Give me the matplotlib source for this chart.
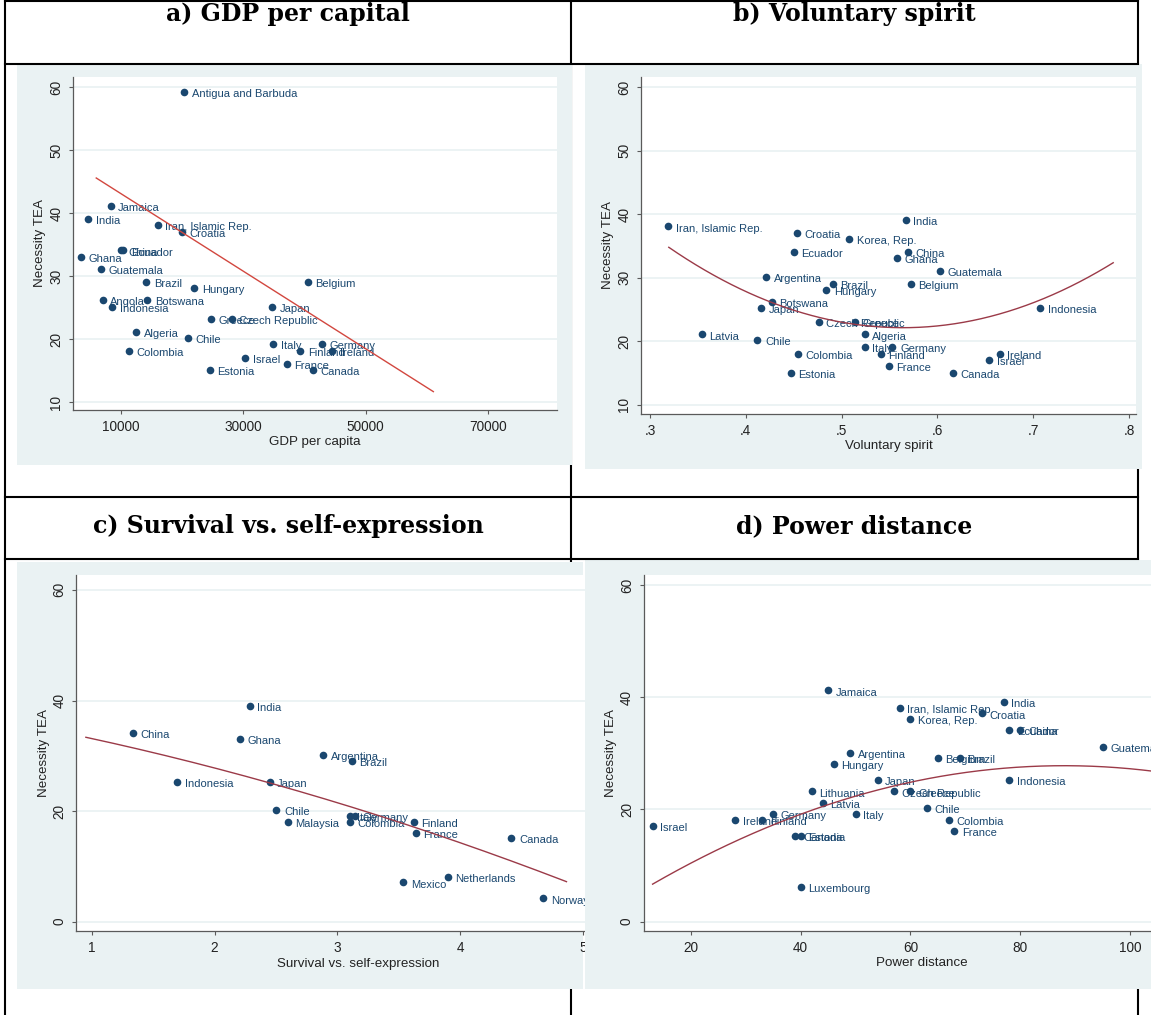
import matplotlib
matplotlib.use("Agg")
import matplotlib.pyplot as plt
from matplotlib.lines import Line2D
from matplotlib.patches import Rectangle
import numpy as np

W, H = 1151, 1015
BG = "#eaf2f3"
NAVY = "#1a476f"

# a) GDP per capita
gdp_names = ["Antigua and Barbuda", "Jamaica", "India", "Iran, Islamic Rep.", "Croatia",
             "China", "Ecuador", "Ghana", "Guatemala", "Brazil", "Hungary", "Belgium",
             "Angola", "Botswana", "Indonesia", "Japan", "Greece", "Czech Republic",
             "Algeria", "Chile", "Italy", "Germany", "Finland", "Ireland", "Colombia",
             "Israel", "France", "Canada", "Estonia"]
gdp_x = [20300, 8300, 4600, 16000, 19900, 10000, 10400, 3400, 6700, 14100, 22000, 40500,
         7000, 14300, 8600, 34700, 24700, 28100, 12500, 20900, 34900, 42800, 39300, 44500,
         11300, 30300, 37100, 41400, 24500]
gdp_tea = [59.2, 41.2, 39.1, 38.1, 37.1, 34.1, 34.1, 33.1, 31.1, 29.1, 28.1, 29.1,
           26.2, 26.2, 25.2, 25.2, 23.2, 23.2, 21.2, 20.2, 19.2, 19.2, 18.1, 18.1,
           18.1, 17.1, 16.1, 15.2, 15.2]
gdp_fit = [-6.15e-4, 49.26]
gdp_fit_range = [5950, 61080]

# b) Voluntary spirit
vol_names = ["Iran, Islamic Rep.", "India", "Croatia", "Korea, Rep.", "Ecuador", "China",
             "Ghana", "Guatemala", "Argentina", "Brazil", "Belgium", "Hungary", "Botswana",
             "Japan", "Indonesia", "Czech Republic", "Greece", "Algeria", "Latvia", "Chile",
             "Italy", "Germany", "Finland", "Colombia", "Ireland", "Israel", "France",
             "Estonia", "Canada"]
vol_x = [0.319, 0.567, 0.4535, 0.508, 0.450, 0.569, 0.558, 0.603, 0.421, 0.491, 0.572,
         0.484, 0.427, 0.416, 0.707, 0.476, 0.514, 0.524, 0.354, 0.412, 0.524, 0.553,
         0.541, 0.454, 0.665, 0.654, 0.549, 0.447, 0.616]
vol_tea = [38.1, 39.1, 37.1, 36.1, 34.1, 34.1, 33.1, 31.1, 30.1, 29.1, 29.1, 28.1, 26.2,
           25.2, 25.2, 23.1, 23.1, 21.1, 21.1, 20.2, 19.2, 19.2, 18.1, 18.1, 18.1, 17.1,
           16.1, 15.1, 15.1]
vol_fit = [212.0, -239.1, 89.58]
vol_fit_range = [0.3196, 0.7835]

# c) Survival vs. self-expression
surv_names = ["India", "China", "Ghana", "Argentina", "Brazil", "Indonesia", "Japan",
              "Chile", "Malaysia", "Italy", "Germany", "Colombia", "Finland", "France",
              "Canada", "Mexico", "Netherlands", "Norway"]
surv_x = [2.285, 1.337, 2.209, 2.882, 3.115, 1.698, 2.448, 2.503, 2.595, 3.099, 3.139,
          3.099, 3.620, 3.635, 4.415, 3.534, 3.895, 4.673]
surv_tea = [39.1, 34.1, 33.1, 30.1, 29.1, 25.2, 25.2, 20.2, 18.1, 19.2, 19.2, 18.1, 18.1,
            16.1, 15.2, 7.1, 8.1, 4.2]
surv_fit = [-0.4803, -3.888, 37.50]
surv_fit_range = [0.954, 4.862]

# d) Power distance
pd_names = ["Jamaica", "India", "Iran, Islamic Rep.", "Croatia", "Korea, Rep.", "Ecuador",
            "China", "Guatemala", "Argentina", "Belgium", "Brazil", "Hungary", "Japan",
            "Indonesia", "Lithuania", "Czech Republic", "Greece", "Latvia", "Chile",
            "Germany", "Italy", "Ireland", "Finland", "Colombia", "Israel", "France",
            "Canada", "Estonia", "Luxembourg"]
pd_x = [45, 77, 58, 73, 60, 78, 80, 95, 49, 65, 69, 46, 54, 78, 42, 57, 60, 44, 63, 35, 50,
        28, 33, 67, 13, 68, 39, 40, 40]
pd_tea = [41.2, 39.1, 38.1, 37.1, 36.1, 34.1, 34.1, 31.1, 30.1, 29.1, 29.1, 28.1, 25.2,
          25.2, 23.2, 23.2, 23.2, 21.2, 20.2, 19.2, 19.2, 18.1, 18.1, 18.1, 17.1, 16.1,
          15.2, 15.2, 6.2]
pd_fit = [-0.003753, 0.6605, -1.264]
pd_fit_range = [13, 104]

plt.rcParams["font.family"] = ["Liberation Sans", "DejaVu Sans"]

fig = plt.figure(figsize=(W / 100, H / 100), dpi=100)


def px_box(x0, x1, y0, y1):
    return [x0 / W, 1 - y1 / H, (x1 - x0) / W, (y1 - y0) / H]


def fig_line(x0, y0, x1, y1, z):
    fig.add_artist(Line2D([x0 / W, x1 / W], [1 - y0 / H, 1 - y1 / H],
                          transform=fig.transFigure, color="black", lw=1.5, zorder=z))


def fig_rect(x0, x1, y0, y1, z):
    fig.add_artist(Rectangle((x0 / W, 1 - y1 / H), (x1 - x0) / W, (y1 - y0) / H,
                             transform=fig.transFigure, facecolor=BG, edgecolor="none",
                             zorder=z))


def panel(box, names, xs, ys, fit, fit_range, xlim, ylim, xticks, xticklabels, yticks,
          xlabel, line_color, z):
    ax = fig.add_axes(px_box(*box), zorder=z)
    ax.set_facecolor("white")
    for s in ["top", "right"]:
        ax.spines[s].set_visible(False)
    for s in ["left", "bottom"]:
        ax.spines[s].set_color("#5a5a5a")
        ax.spines[s].set_linewidth(0.9)
    ax.set_xlim(xlim)
    ax.set_ylim(ylim)
    ax.set_xticks(xticks, xticklabels)
    ax.set_yticks(yticks, [str(t) for t in yticks], rotation=90, va="center")
    ax.tick_params(direction="out", length=3, width=0.8, color="#5a5a5a",
                   labelsize=9.8, labelcolor="#222222", pad=4)
    ax.yaxis.grid(True, color=BG, lw=1.3)
    ax.set_axisbelow(True)
    ax.set_xlabel(xlabel, fontsize=9.6, color="#222222", labelpad=2)
    ax.set_ylabel("Necessity TEA", fontsize=9.6, color="#222222", labelpad=2)

    for n, x, y in zip(names, xs, ys):
        ax.annotate(n, (x, y), xytext=(5.5, -1.5), textcoords="offset points",
                    ha="left", va="center", fontsize=8.0, color=NAVY, zorder=2)
    ax.plot(xs, ys, "o", color=NAVY, ms=5.5, mew=0, zorder=3)
    fx = np.linspace(fit_range[0], fit_range[1], 200)
    ax.plot(fx, np.polyval(fit, fx), color=line_color, lw=1.0, zorder=4)
    return ax


# table lines that sit behind the pictures
fig_line(5, 0, 5, H, 0.5)
fig_line(571, 0, 571, H, 0.5)
fig_line(1138, 0, 1138, H, 0.5)

# picture backgrounds
fig_rect(17, 572, 64, 465, 1)
fig_rect(585, 1142, 64, 469, 1)
fig_rect(17, 583, 562, 989, 1)

panel((73, 557, 77, 410), gdp_names, gdp_x, gdp_tea, gdp_fit, gdp_fit_range,
      (2150, 81300), (8.78, 61.63), [10000, 30000, 50000, 70000],
      ["10000", "30000", "50000", "70000"], [10, 20, 30, 40, 50, 60],
      "GDP per capita", "#d2473f", 2)

panel((641, 1136, 77, 414), vol_names, vol_x, vol_tea, vol_fit, vol_fit_range,
      (0.2906, 0.8073), (8.58, 61.62), [0.3, 0.4, 0.5, 0.6, 0.7, 0.8],
      [".3", ".4", ".5", ".6", ".7", ".8"], [10, 20, 30, 40, 50, 60],
      "Voluntary spirit", "#9b3a48", 2)

panel((76.4, 640, 575, 931), surv_names, surv_x, surv_tea, surv_fit, surv_fit_range,
      (0.877, 5.46), (-1.68, 62.7), [1, 2, 3, 4, 5], ["1", "2", "3", "4", "5"],
      [0, 20, 40, 60], "Survival vs. self-expression", "#9b3a48", 2)

# panel d picture is pasted over the right edge of panel c
fig_rect(585, W, 560, 989, 3)
panel((643.7, 1200, 575, 931), pd_names, pd_x, pd_tea, pd_fit, pd_fit_range,
      (11.38, 112.76), (-1.66, 61.78), [20, 40, 60, 80, 100],
      ["20", "40", "60", "80", "100"], [0, 20, 40, 60], "Power distance", "#9b3a48", 4)

# table lines on top
for y in [1, 64, 497, 559]:
    fig_line(5, y, 1138, y, 5)

hdr = dict(ha="center", va="baseline", family="DejaVu Serif", weight="bold",
           size=17, zorder=6)
fig.text(288 / W, 1 - 21 / H, "a) GDP per capital", **hdr)
fig.text(854.5 / W, 1 - 21 / H, "b) Voluntary spirit", **hdr)
fig.text(288 / W, 1 - 533 / H, "c) Survival vs. self-expression", **hdr)
fig.text(854.5 / W, 1 - 533 / H, "d) Power distance", **hdr)

fig.savefig("out.png", dpi=100)
